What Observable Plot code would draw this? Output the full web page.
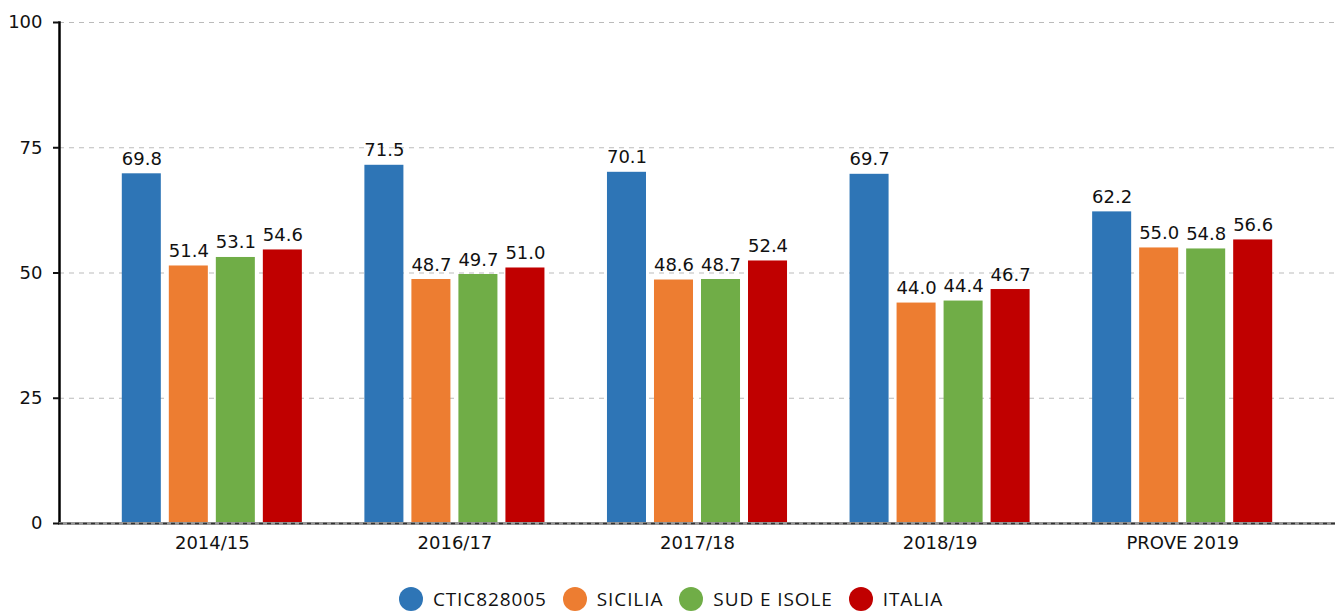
<!DOCTYPE html>
<html>
<head>
<meta charset="utf-8">
<script src="https://cdn.jsdelivr.net/npm/d3@7"></script>
<script src="https://cdn.jsdelivr.net/npm/@observablehq/plot@0.6"></script>
<style>
  html, body { margin: 0; padding: 0; background: #fff; }
  #chart { position: relative; width: 1342px; height: 570px; }
  #chart svg { display: block; position: absolute; left: 0; top: 0; }
  #legend { display: flex; justify-content: center; align-items: center; height: 28px; padding-top: 15px;
    font-family: "Open Sans", sans-serif; font-size: 19px; letter-spacing: 0.9px; color: #111; }
  .item { display: flex; align-items: center; margin: 0 8px; }
  .dot { width: 24px; height: 24px; border-radius: 50%; margin-right: 10px; }
</style>
</head>
<body>
<div id="chart"></div>
<div id="legend"></div>
<script>
const groups = ["2014/15", "2016/17", "2017/18", "2018/19", "PROVE 2019"];
const seriesNames = ["CTIC828005", "SICILIA", "SUD E ISOLE", "ITALIA"];
const colors = ["#2e75b6", "#ed7d31", "#70ad47", "#c00000"];
const ctic = [69.8, 71.5, 70.1, 69.7, 62.2];
const sicilia = [51.4, 48.7, 48.6, 44.0, 55.0];
const sud = [53.1, 49.7, 48.7, 44.4, 54.8];
const italia = [54.6, 51.0, 52.4, 46.7, 56.6];
const yTicks = [0, 25, 50, 75, 100];

const seriesValues = [ctic, sicilia, sud, italia];
const data = [];
groups.forEach((g, i) => seriesNames.forEach((s, j) => data.push({group: g, series: s, value: seriesValues[j][i]})));

const font = "'DejaVu Sans', sans-serif";
const common = {
  width: 1342,
  height: 570,
  marginLeft: 59,
  marginRight: 7,
  marginTop: 22,
  marginBottom: 47,
  y: {domain: [0, 100], axis: null}
};

// Background layer: grid, y axis
const back = Plot.plot({
  ...common,
  style: {fontFamily: font, fontSize: "17px", color: "#111", background: "#fff"},
  marks: [
    Plot.gridY(yTicks, {stroke: "#bbb", strokeOpacity: 1, strokeDasharray: "5,5", strokeWidth: 1}),
    Plot.frame({anchor: "left", stroke: "#000", strokeWidth: 2.5}),
    Plot.axisY(yTicks, {tickSize: 6, tickPadding: 11, strokeWidth: 2, fontSize: 18, label: null})
  ]
});

// Foreground layer: grouped bars with value labels
const front = Plot.plot({
  ...common,
  style: {fontFamily: font, fontSize: "18px", color: "#111", background: "transparent"},
  fx: {domain: groups, paddingInner: 0, paddingOuter: 0.13, round: false, label: null},
  x: {domain: seriesNames, paddingInner: 0.17, paddingOuter: 0.665, round: false, axis: null},
  color: {domain: seriesNames, range: colors},
  marks: [
    Plot.barY(data, {fx: "group", x: "series", y: "value", fill: "series"}),
    Plot.text(data, {fx: "group", x: "series", y: "value", text: d => d.value.toFixed(1), lineAnchor: "bottom", dy: -9, fontSize: 18, fill: "#111"}),
    Plot.axisFx({anchor: "bottom", tickSize: 0, tickPadding: 13, fontSize: 18, label: null, style: {letterSpacing: "1px"}})
  ]
});

// Baseline layer (drawn over the bars)
const base = Plot.plot({
  ...common,
  style: {background: "transparent"},
  marks: [
    Plot.ruleY([0], {stroke: "#999", strokeWidth: 3}),
    Plot.ruleY([0], {stroke: "#333", strokeWidth: 1.5, strokeDasharray: "4,4"})
  ]
});

const chartEl = document.getElementById("chart");
chartEl.appendChild(back);
chartEl.appendChild(front);
chartEl.appendChild(base);

const legend = document.getElementById("legend");
seriesNames.forEach((s, j) => {
  const item = document.createElement("div");
  item.className = "item";
  const dot = document.createElement("div");
  dot.className = "dot";
  dot.style.background = colors[j];
  const label = document.createElement("span");
  label.textContent = s;
  item.appendChild(dot);
  item.appendChild(label);
  legend.appendChild(item);
});
</script>
</body>
</html>
